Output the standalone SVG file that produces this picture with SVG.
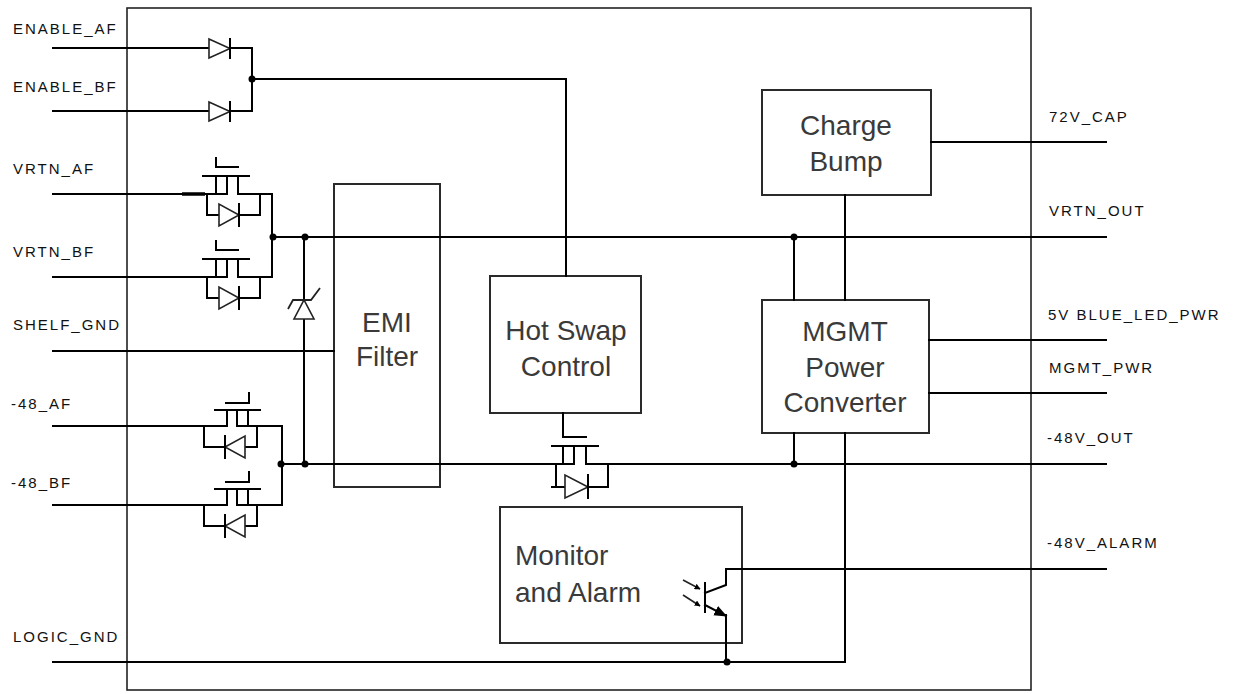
<svg xmlns="http://www.w3.org/2000/svg" width="1236" height="694" viewBox="0 0 1236 694">
<defs>
<style>
.w{fill:none;stroke:#000;stroke-width:2;stroke-linecap:square}
.box{fill:none;stroke:#2a2a2a;stroke-width:2}
.d{fill:#fff;stroke:#222;stroke-width:1.6}
.lbl{font-family:"Liberation Sans",Arial,sans-serif;font-size:15px;letter-spacing:2px;fill:#111}
.big{font-family:"Liberation Sans",Arial,sans-serif;font-size:28px;fill:#3a3a3a;text-anchor:middle}
.dot{fill:#000}
</style>
<marker id="ah" viewBox="0 0 10 10" refX="9" refY="5" markerWidth="6" markerHeight="6" orient="auto" markerUnits="userSpaceOnUse">
<path d="M0,0 L10,5 L0,10 z" fill="#000"/>
</marker>
<marker id="ahb" viewBox="0 0 10 10" refX="9" refY="5" markerWidth="13" markerHeight="13" orient="auto" markerUnits="userSpaceOnUse">
<path d="M0,1 L10,5 L0,9 z" fill="#000"/>
</marker>
</defs>
<rect width="1236" height="694" fill="#fff"/>

<g id="frame"><rect x="127" y="8" width="904" height="682" fill="none" stroke="#222" stroke-width="1.6"/></g>

<g id="labels">
<text class="lbl" x="13" y="34">ENABLE_AF</text>
<text class="lbl" x="13" y="92">ENABLE_BF</text>
<text class="lbl" x="13" y="174">VRTN_AF</text>
<text class="lbl" x="13" y="257">VRTN_BF</text>
<text class="lbl" x="13" y="330">SHELF_GND</text>
<text class="lbl" x="11" y="409">-48_AF</text>
<text class="lbl" x="11" y="488">-48_BF</text>
<text class="lbl" x="13" y="642">LOGIC_GND</text>
<text class="lbl" x="1049" y="122">72V_CAP</text>
<text class="lbl" x="1049" y="216">VRTN_OUT</text>
<text class="lbl" x="1048" y="320">5V BLUE_LED_PWR</text>
<text class="lbl" x="1049" y="373">MGMT_PWR</text>
<text class="lbl" x="1047" y="443">-48V_OUT</text>
<text class="lbl" x="1047" y="548">-48V_ALARM</text>
</g>

<g id="emi-filter"><rect class="box" x="334" y="184" width="106" height="303"/>
<text class="big" x="387" y="332">EMI</text><text class="big" x="387" y="366">Filter</text></g>

<g id="hot-swap"><rect class="box" x="490" y="276" width="151" height="137"/>
<text class="big" x="566" y="340">Hot Swap</text><text class="big" x="566" y="376">Control</text></g>

<g id="charge-bump"><rect class="box" x="762" y="90" width="169" height="105"/>
<text class="big" x="846" y="135">Charge</text><text class="big" x="846" y="171">Bump</text></g>

<g id="mgmt"><rect class="box" x="762" y="300" width="167" height="133"/>
<text class="big" x="845" y="341">MGMT</text><text class="big" x="845" y="377">Power</text><text class="big" x="845" y="412">Converter</text></g>

<g id="monitor"><rect class="box" x="500" y="507" width="242" height="136"/>
<text class="big" x="515" y="565" style="text-anchor:start">Monitor</text><text class="big" x="515" y="602" style="text-anchor:start">and Alarm</text></g>

<g id="connectors">
<path class="w" d="M53,48 H252 V111 H53"/>
<path class="w" d="M252,79 H566 V276"/>
<path class="w" d="M53,194 H216"/>
<path d="M182,194 H205" stroke="#000" stroke-width="3.5"/>
<path class="w" d="M53,277 H216"/>
<path class="w" d="M272,194 V277"/>
<path class="w" d="M272,237 H1106"/>
<path class="w" d="M53,351 H334"/>
<path class="w" d="M53,426 H227"/>
<path class="w" d="M53,505 H227"/>
<path class="w" d="M282,426 V505"/>
<path class="w" d="M282,464 H563"/>
<path class="w" d="M586,464 H1106"/>
<path class="w" d="M304,237 V464"/>
<path class="w" d="M931,142 H1106"/>
<path class="w" d="M845,195 V300"/>
<path class="w" d="M794,237 V300"/>
<path class="w" d="M794,433 V464"/>
<path class="w" d="M929,340 H1106"/>
<path class="w" d="M929,393 H1106"/>
<path class="w" d="M845,433 V662"/>
<path class="w" d="M53,662 H845"/>
<path class="w" d="M705,593 L726,585 V569 H1106"/>
<path class="w" d="M705,605 L726,616" marker-end="url(#ahb)"/>
<path class="w" d="M726,615 V662"/>
</g>

<g id="diode-enable-af"><polygon class="d" points="209,39 209,58 230,48.5"/><path class="w" d="M230,39 V58"/></g>
<g id="diode-enable-bf"><polygon class="d" points="209,102 209,121 230,111.5"/><path class="w" d="M230,102 V121"/></g>

<g id="fet-vrtn-af" transform="translate(0,194)">
<path class="w" d="M216,-36 V-27 H238 M203,-18 H249 M216,-18 V0 H227 V-18 M238,-18 V0 H272 M207,0 V21 H260 V0"/>
<polygon class="d" points="219,10 219,32 239,21"/><path class="w" d="M239,10 V32"/>
</g>
<g id="fet-vrtn-bf" transform="translate(0,277)">
<path class="w" d="M216,-36 V-27 H238 M203,-18 H249 M216,-18 V0 H227 V-18 M238,-18 V0 H272 M207,0 V21 H260 V0"/>
<polygon class="d" points="219,10 219,32 239,21"/><path class="w" d="M239,10 V32"/>
</g>
<g id="fet-48-af" transform="translate(0,426)">
<path class="w" d="M226,-23 H249 V-33 M215,-16 H260 M227,-16 V0 M237,-16 V0 H248 V-16 M248,0 H282 M204,0 V21 H257 V0"/>
<polygon class="d" points="245,10 245,32 225,21"/><path class="w" d="M225,10 V32"/>
</g>
<g id="fet-48-bf" transform="translate(0,505)">
<path class="w" d="M226,-23 H249 V-33 M215,-16 H260 M227,-16 V0 M237,-16 V0 H248 V-16 M248,0 H282 M204,0 V21 H257 V0"/>
<polygon class="d" points="245,10 245,32 225,21"/><path class="w" d="M225,10 V32"/>
</g>

<g id="zener">
<polygon class="d" points="294,319 314,319 304,300"/>
<path fill="none" stroke="#222" stroke-width="1.8" d="M288,309 L293,300 H311 L320,288"/>
</g>

<g id="fet-hotswap">
<path class="w" d="M563,413 V437 H586 M552,446 H598 M563,446 V464 H574 V446 M586,446 V464 M552,487 H608 V464 M556,464 V487"/>
<polygon class="d" points="565,475 565,498 588,487"/><path class="w" d="M588,475 V498"/>
</g>

<g id="optocoupler">
<path class="w" d="M705,583 V612"/>
<path fill="none" stroke="#222" stroke-width="1.6" d="M683,580 L700,589" marker-end="url(#ah)"/>
<path fill="none" stroke="#222" stroke-width="1.6" d="M683,595 L700,606" marker-end="url(#ah)"/>
</g>

<g id="junctions">
<circle class="dot" cx="252" cy="79" r="3.5"/>
<circle class="dot" cx="273" cy="237" r="3.5"/>
<circle class="dot" cx="305" cy="237" r="3.5"/>
<circle class="dot" cx="281" cy="464" r="3.5"/>
<circle class="dot" cx="305" cy="464" r="3.5"/>
<circle class="dot" cx="794" cy="237" r="3.5"/>
<circle class="dot" cx="794" cy="464" r="3.5"/>
<circle class="dot" cx="727" cy="662" r="3.5"/>
</g>
</svg>
